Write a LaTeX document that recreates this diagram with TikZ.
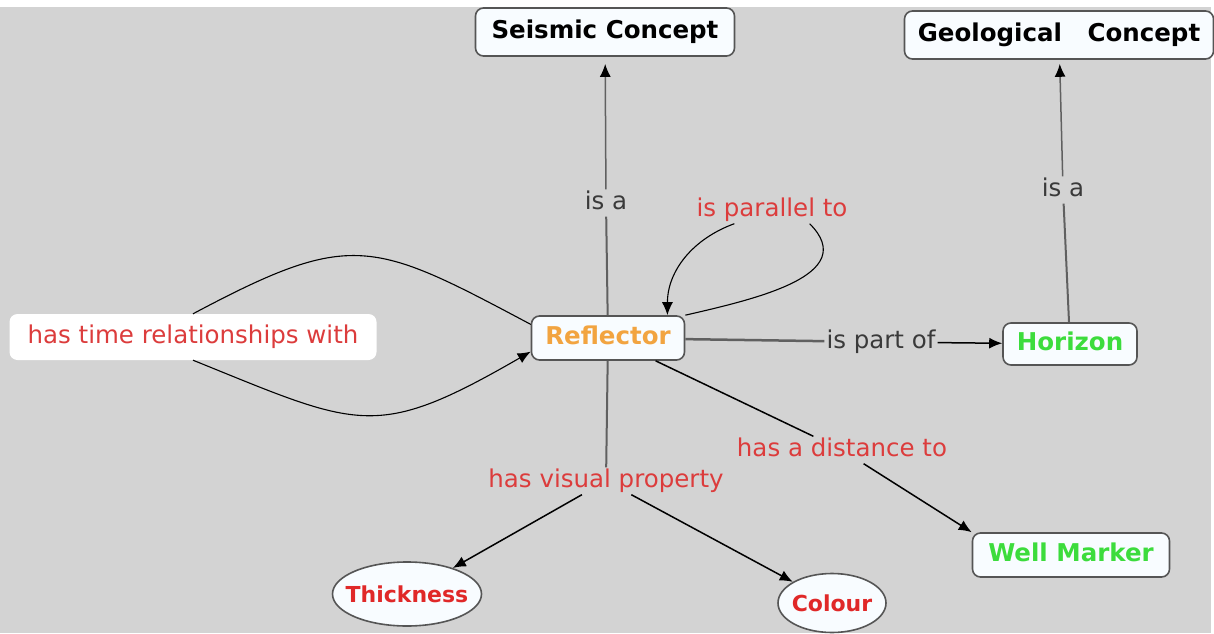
\documentclass[tikz,border=0pt]{standalone}
\usepackage{fontspec}
\setmainfont{DejaVu Sans}
\usetikzlibrary{arrows.meta, shapes.geometric}
\definecolor{canvas}{HTML}{D3D3D3}
\definecolor{cbord}{HTML}{555555}
\definecolor{cfill}{HTML}{F8FCFF}
\definecolor{linegrey}{HTML}{606060}
\definecolor{lblgrey}{HTML}{3A3A3A}
\definecolor{lblred}{HTML}{DC3C3C}
\definecolor{propred}{HTML}{E02828}
\definecolor{orangetxt}{HTML}{F2A440}
\definecolor{greentxt}{HTML}{3CDC3C}
\tikzset{
  concept/.style={
    draw=cbord, fill=cfill, line width=1.6pt, rounded corners=8pt,
    font=\bfseries\fontsize{24.5}{28}\selectfont, text height=18pt, text depth=5pt,
    inner xsep=13pt, minimum height=44pt
  },
  prop/.style={
    ellipse, draw=cbord, fill=cfill, line width=1.6pt,
    font=\bfseries\fontsize{22}{26}\selectfont, text=propred,
    inner xsep=-15pt, inner ysep=0pt
  },
  timebox/.style={
    fill=white, rounded corners=8pt, text=lblred,
    font=\fontsize{24.5}{28}\selectfont, text height=18pt, text depth=5pt,
    minimum width=367pt, minimum height=46pt
  },
  linklbl/.style={
    font=\fontsize{24.5}{28}\selectfont, text=lblgrey,
    text height=18pt, text depth=5pt, inner sep=2pt
  },
  redlbl/.style={linklbl, text=lblred},
  conn/.style={draw=linegrey, line width=2pt},
  arr/.style={draw=black, line width=1.5pt, -{Latex[length=13pt,width=11pt,color=black]}},
  curve/.style={draw=black, line width=1.1pt}
}

\begin{document}
\begin{tikzpicture}[x=1pt, y=1pt]
  \useasboundingbox (0,0) rectangle (1214,633);
  \fill[canvas] (0,0) rectangle (1211,626);

  % ---- Concepts ------------------------------------------------------------
  \node[concept, minimum width=259pt, minimum height=48pt] (seis) at (605,601) {Seismic Concept};
  \node[concept, minimum width=309pt, minimum height=48pt] (geo) at (1059,598) {Geological\ \ \ Concept};
  \node[concept, minimum width=153pt, text=orangetxt] (refl) at (608,295) {Reflector};
  \node[concept, minimum width=134pt, minimum height=42pt, text=greentxt] (hor) at (1070,289) {Horizon};
  \node[concept, minimum width=197pt, text=greentxt] (well) at (1071,78) {Well Marker};
  \node[prop, minimum width=149pt, minimum height=64pt] (thick) at (407,39) {Thickness};
  \node[prop, minimum width=108pt, minimum height=59pt] (col) at (832,30) {Colour};
  \node[timebox] (time) at (193,296) {has time relationships with};

  % ---- Link labels ---------------------------------------------------------
  \node[linklbl] (isa1) at (606,430) {is a};
  \node[linklbl] (isa2) at (1063,443) {is a};
  \node[redlbl] (par) at (772,423) {is parallel to};
  \node[linklbl] (part) at (881,291) {is part of};
  \node[redlbl] (dist) at (842,183) {has a distance to};
  \node[redlbl] (vis) at (606,152) {has visual property};

  % ---- Straight links ------------------------------------------------------
  \draw[conn] (refl) -- (isa1);
  \draw[conn, arr, draw=linegrey, shorten >=7pt] (isa1) -- (seis);
  \draw[conn] (hor) -- (isa2);
  \draw[conn, arr, draw=linegrey, shorten >=4pt] (isa2) -- (geo);
  \draw[conn, line width=2.5pt] (refl) -- (part);
  \draw[arr] (part) -- (hor);
  \draw[arr, -] (refl) -- (dist);
  \draw[arr] (dist) -- (well.north west);
  \draw[conn] (refl) -- (vis);
  \draw[arr] (vis) -- (thick);
  \draw[arr] (vis) -- (col);

  % ---- Curved links --------------------------------------------------------
  \draw[curve] (refl.170) to[out=152, in=28, looseness=1.36] (time.north);
  \draw[curve, -{Latex[length=13pt,width=11pt]}] (time.south) to[out=-22, in=-150, looseness=1.36] (refl.190);
  \draw[curve] (refl.north east) to[out=13, in=-45, looseness=1.2] (par.-20);
  \draw[curve, -{Latex[length=13pt,width=11pt]}] (par.200) to[out=200, in=90] (refl.21);

\end{tikzpicture}
\end{document}
